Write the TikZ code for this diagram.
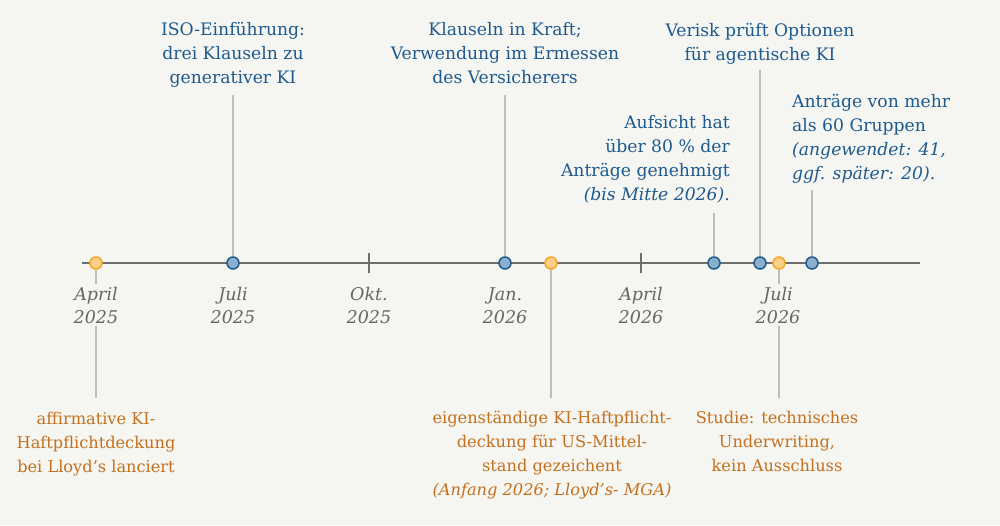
\documentclass[tikz,border=0pt]{standalone}
\usepackage{fontspec}
\setmainfont{DejaVu Serif}
\usetikzlibrary{positioning}

\definecolor{paper}{HTML}{F5F5F1}
\definecolor{axisgray}{HTML}{6E6E6E}
\definecolor{leadergray}{HTML}{BDBDBD}
\definecolor{dotblue}{HTML}{8AB0CE}
\definecolor{rimblue}{HTML}{1F5A8C}
\definecolor{dotorange}{HTML}{FDD089}
\definecolor{rimorange}{HTML}{F5A623}
\definecolor{textblue}{HTML}{1D5A8E}
\definecolor{textorange}{HTML}{C4701E}
\definecolor{monthgray}{HTML}{666666}

\begin{document}
\begin{tikzpicture}[%
		x=1pt, y=-1pt,
		axis/.style={
			draw=axisgray,
			line width=2pt
		},
		quartertick/.style={
			draw=axisgray,
			line width=1.6pt
		},
		bluedot/.style={
			circle,
			minimum size=12pt,
			inner sep=0pt,
			line width=1.5pt,
			fill=dotblue,
			draw=rimblue
		},
		orangedot/.style={
			circle,
			minimum size=12pt,
			inner sep=0pt,
			line width=1.5pt,
			fill=dotorange,
			draw=rimorange
		},
		leader/.style={
			draw=leadergray,
			line width=1.5pt
		},
		month/.style={
			font=\itshape\fontsize{17.5}{23}\selectfont,
			text=monthgray,
			fill=paper,
			inner sep=3pt,
			align=center,
			anchor=base
		},
		bluenote/.style={
			font=\fontsize{17.2}{24}\selectfont,
			text=textblue,
			inner sep=0pt,
			align=center,
			anchor=base
		},
		orangenote/.style={
			font=\fontsize{16.2}{24}\selectfont,
			text=textorange,
			inner sep=0pt,
			align=center,
			anchor=base
		}]

		% BACKGROUND
		\fill[paper] (0,0) rectangle (1000,525);
		\useasboundingbox (0,0) rectangle (1000,525);

		% AXIS
		\coordinate (start) at (82,263);
		\coordinate (end) at (920,263);
		\draw[axis] (start) -- (end);
		\coordinate (okt-top) at (369,253);
		\coordinate (okt-bot) at (369,273);
		\coordinate (apr-top) at (641,253);
		\coordinate (apr-bot) at (641,273);
		\draw[quartertick] (okt-top) -- (okt-bot);
		\draw[quartertick] (apr-top) -- (apr-bot);

		% EVENTS
		\node (dApr25) [orangedot] at (96,263) {};
		\node (dJul25) [bluedot] at (233,263) {};
		\node (dJan26) [bluedot] at (505,263) {};
		\node (dLloyd) [orangedot] at (551,263) {};
		\node (dAufsicht) [bluedot] at (714,263) {};
		\node (dVerisk) [bluedot] at (760,263) {};
		\node (dStudie) [orangedot] at (779,263) {};
		\node (dAntraege) [bluedot] at (812,263) {};

		% LEADER ENDS
		\coordinate (eJul25) at (233,95);
		\coordinate (eJan26) at (505,95);
		\coordinate (eAufsicht) at (714,213);
		\coordinate (eVerisk) at (760,70);
		\coordinate (eAntraege) at (812,190);
		\coordinate (eApr25) at (96,398);
		\coordinate (eLloyd) at (551,398);
		\coordinate (eStudie) at (779,398);

		\draw[leader] (dJul25.north) -- (eJul25);
		\draw[leader] (dJan26.north) -- (eJan26);
		\draw[leader] (dAufsicht.north) -- (eAufsicht);
		\draw[leader] (dVerisk.north) -- (eVerisk);
		\draw[leader] (dAntraege.north) -- (eAntraege);
		\draw[leader] (dApr25.south) -- (eApr25);
		\draw[leader] (dLloyd.south) -- (eLloyd);
		\draw[leader] (dStudie.south) -- (eStudie);

		% MONTHS (base = last line)
		\node (mApr25) [month] at (96,323) {April\\2025};
		\node (mJul25) [month] at (233,323) {Juli\\2025};
		\node (mOkt25) [month] at (369,323) {Okt.\\2025};
		\node (mJan26) [month] at (505,323) {Jan.\\2026};
		\node (mApr26) [month] at (641,323) {April\\2026};
		\node (mJul26) [month] at (778,323) {Juli\\2026};

		% NOTES ABOVE
		\node (iso) [bluenote] at (233,83) {ISO-Einführung:\\drei Klauseln zu\\generativer KI};
		\node (kraft) [bluenote] at (505,83) {Klauseln in Kraft;\\Verwendung im Ermessen\\des Versicherers};
		\node (verisk) [bluenote] at (760,60) {Verisk prüft Optionen\\für agentische KI};
		\node (aufsicht) [bluenote, align=right, anchor=base east] at (730,200) {Aufsicht hat\\über 80 \% der\\Anträge genehmigt\\\textit{(bis Mitte 2026).}};
		\node (antraege) [bluenote, align=left, anchor=base west] at (792,179) {Anträge von mehr\\als 60 Gruppen\\\textit{(angewendet: 41,}\\\textit{ggf. später: 20).}};

		% NOTES BELOW
		\node (affirm) [orangenote] at (96,472) {affirmative KI-\\Haftpflichtdeckung\\bei Lloyd’s lanciert};
		\node (eigen) [orangenote] at (552,495) {eigenständige KI-Haftpflicht-\\deckung für US-Mittel-\\stand gezeichent\\\textit{(Anfang 2026; Lloyd’s- MGA)}};
		\node (studie) [orangenote] at (777,471) {Studie: technisches\\Underwriting,\\kein Ausschluss};
\end{tikzpicture}
\end{document}
